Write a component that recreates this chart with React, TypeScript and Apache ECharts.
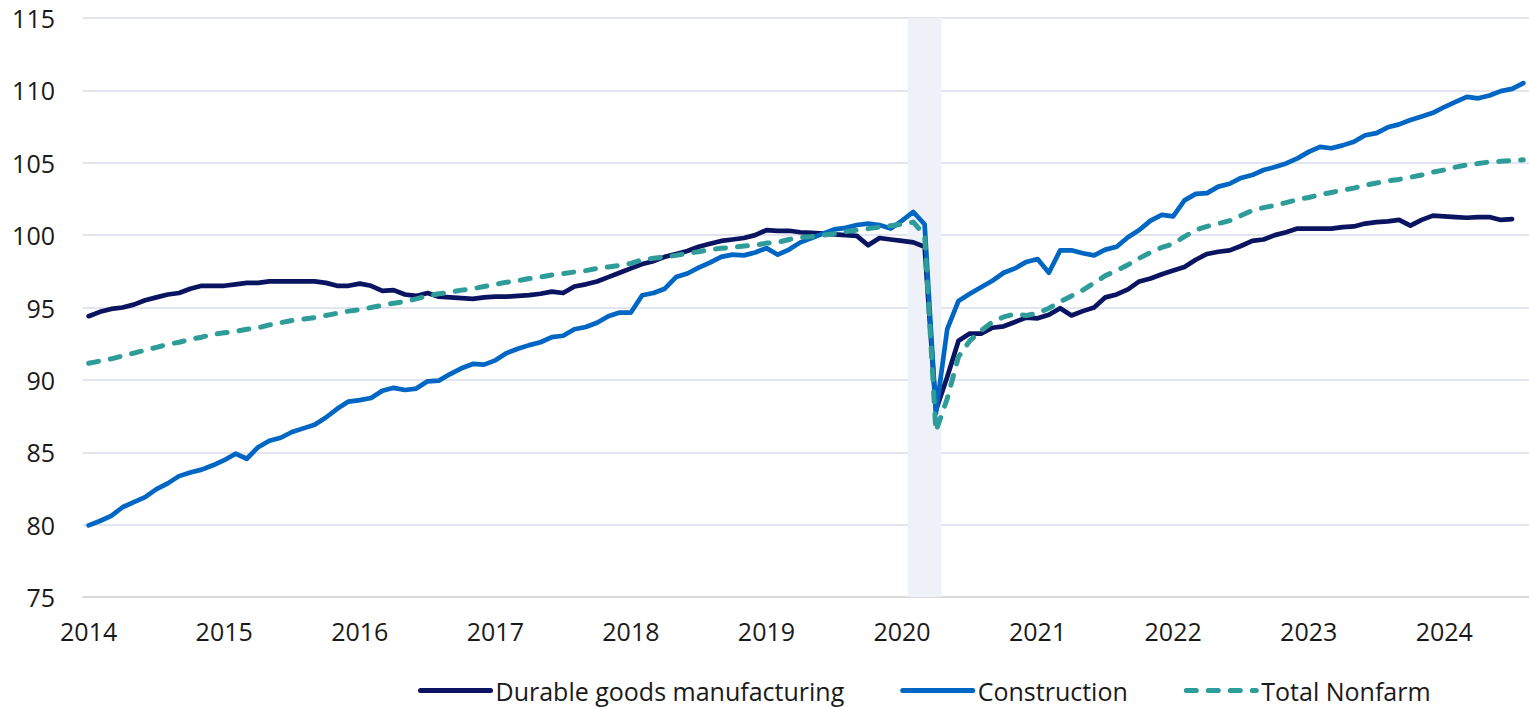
import React, { useEffect, useRef } from "react";
import * as echarts from "echarts";

const years = [2014, 2015, 2016, 2017, 2018, 2019, 2020, 2021, 2022, 2023, 2024];
const lastMonthOf2024 = 8;

const months: string[] = [];
for (const y of years) {
  for (let m = 1; m <= 12; m++) {
    if (y === 2024 && m > lastMonthOf2024) break;
    months.push(`${y}-${String(m).padStart(2, "0")}`);
  }
}

const yTicks = [75, 80, 85, 90, 95, 100, 105, 110, 115];

const durableGoods = [
  94.4, 94.7, 94.9, 95.0, 95.2, 95.5, 95.7, 95.9, 96.0, 96.3, 96.5, 96.5,
  96.5, 96.6, 96.7, 96.7, 96.8, 96.8, 96.8, 96.8, 96.8, 96.7, 96.5, 96.5,
  96.65, 96.5, 96.15, 96.2, 95.9, 95.8, 96.0, 95.75, 95.7, 95.65, 95.6, 95.7,
  95.75, 95.75, 95.8, 95.85, 95.95, 96.1, 96.0, 96.45, 96.6, 96.8, 97.1, 97.4,
  97.7, 98.0, 98.2, 98.5, 98.7, 98.9, 99.2, 99.4, 99.6, 99.7, 99.8, 100.0,
  100.35, 100.3, 100.3, 100.2, 100.15, 100.1, 100.05, 100.0, 99.95, 99.3, 99.8, 99.7,
  99.6, 99.5, 99.2, 87.9, 90.2, 92.7, 93.2, 93.2, 93.6, 93.7, 94.0, 94.3,
  94.25, 94.5, 94.95, 94.45, 94.75, 95.0, 95.7, 95.9, 96.25, 96.8, 97.0, 97.3,
  97.55, 97.8, 98.3, 98.7, 98.85, 98.95, 99.25, 99.6, 99.7, 100.0, 100.2, 100.45,
  100.45, 100.45, 100.45, 100.55, 100.6, 100.8, 100.9, 100.95, 101.05, 100.65, 101.05, 101.35,
  101.3, 101.25, 101.2, 101.25, 101.25, 101.05, 101.1, null,
];

const construction = [
  79.95, 80.25, 80.6, 81.2, 81.55, 81.9, 82.45, 82.85, 83.35, 83.6, 83.8, 84.1,
  84.45, 84.9, 84.55, 85.35, 85.8, 86.0, 86.4, 86.65, 86.9, 87.4, 88.0, 88.5,
  88.6, 88.75, 89.25, 89.45, 89.3, 89.4, 89.9, 89.95, 90.4, 90.8, 91.1, 91.05,
  91.35, 91.85, 92.15, 92.4, 92.6, 92.95, 93.05, 93.5, 93.65, 93.95, 94.4, 94.65,
  94.65, 95.85, 96.0, 96.3, 97.1, 97.35, 97.75, 98.1, 98.5, 98.65, 98.6, 98.8,
  99.1, 98.65, 99.0, 99.5, 99.8, 100.1, 100.4, 100.5, 100.7, 100.8, 100.7, 100.45,
  101.0, 101.6, 100.75, 87.7, 93.5, 95.45, 95.95, 96.4, 96.85, 97.4, 97.7, 98.15,
  98.35, 97.4, 98.95, 98.95, 98.75, 98.6, 99.0, 99.2, 99.85, 100.35, 101.0, 101.4,
  101.3, 102.4, 102.85, 102.9, 103.35, 103.55, 103.95, 104.15, 104.5, 104.7, 104.95, 105.3,
  105.75, 106.1, 106.0, 106.2, 106.45, 106.9, 107.05, 107.45, 107.65, 107.95, 108.2, 108.45,
  108.85, 109.2, 109.55, 109.45, 109.65, 109.95, 110.1, 110.5,
];

const totalNonfarm = [
  91.15, 91.3, 91.45, 91.65, 91.85, 92.05, 92.25, 92.45, 92.6, 92.8, 92.95, 93.15,
  93.25, 93.35, 93.5, 93.6, 93.8, 93.95, 94.1, 94.2, 94.3, 94.45, 94.6, 94.75,
  94.85, 95.0, 95.15, 95.3, 95.4, 95.6, 95.8, 95.95, 96.05, 96.2, 96.3, 96.45,
  96.6, 96.75, 96.85, 97.0, 97.1, 97.25, 97.35, 97.45, 97.55, 97.7, 97.8, 97.9,
  98.05, 98.3, 98.4, 98.5, 98.6, 98.75, 98.85, 99.0, 99.1, 99.15, 99.25, 99.3,
  99.45, 99.5, 99.7, 99.85, 99.9, 100.0, 100.1, 100.25, 100.35, 100.45, 100.55, 100.65,
  100.75, 100.9, 100.0, 86.45, 88.7, 91.6, 92.7, 93.4, 94.0, 94.35, 94.55, 94.45,
  94.6, 94.95, 95.4, 95.8, 96.2, 96.7, 97.2, 97.55, 97.95, 98.4, 98.8, 99.15,
  99.4, 99.9, 100.35, 100.6, 100.8, 101.0, 101.35, 101.7, 101.9, 102.05, 102.25, 102.45,
  102.6, 102.8, 102.95, 103.1, 103.25, 103.45, 103.6, 103.75, 103.85, 104.0, 104.15, 104.35,
  104.5, 104.7, 104.85, 104.95, 105.05, 105.1, 105.15, 105.2,
];

// recession shading: Feb 2020 through Apr 2020 (full month bands)
const recessionStart = "2020-02";
const recessionEnd = "2020-04";

const seriesNames = ["Durable goods manufacturing", "Construction", "Total Nonfarm"];
const colors = ["#0B1461", "#0066C4", "#2E9C98"];

const FONT = "'Open Sans', 'Noto Sans', sans-serif";

export default function App() {
  const ref = useRef<HTMLDivElement>(null);

  useEffect(() => {
    if (!ref.current) return;
    const chart = echarts.init(ref.current, undefined, { renderer: "svg" });
    const bandFrom = months.indexOf(recessionStart);
    const bandTo = months.indexOf(recessionEnd) + 1;
    chart.setOption({
      animation: false,
      backgroundColor: "#ffffff",
      grid: { left: 83, top: 18, width: 1449.6, height: 579, containLabel: false },
      xAxis: [
        {
          type: "category",
          data: months,
          boundaryGap: true,
          axisTick: { show: false },
          axisLine: { show: true, lineStyle: { color: "#D9D9D9", width: 2 } },
          splitLine: { show: false },
          axisLabel: {
            interval: (idx: number) => idx % 12 === 0,
            formatter: (v: string) => v.slice(0, 4),
            color: "#1a1a1a",
            fontSize: 25,
            fontFamily: FONT,
            margin: 21,
          },
        },
        {
          type: "value",
          min: 0,
          max: months.length,
          show: false,
          splitLine: { show: false },
        },
      ],
      yAxis: {
        type: "value",
        min: yTicks[0],
        max: yTicks[yTicks.length - 1],
        interval: 5,
        axisLine: { show: false },
        axisTick: { show: false },
        splitLine: { show: true, lineStyle: { color: "#E2E5F0", width: 2 } },
        axisLabel: {
          color: "#1a1a1a",
          fontSize: 25,
          fontFamily: FONT,
          margin: 28,
        },
      },
      legend: {
        left: 413,
        top: 673,
        itemWidth: 70,
        itemHeight: 14,
        itemGap: 56,
        data: seriesNames,
        textStyle: { color: "#1a1a1a", fontSize: 25, fontFamily: FONT },
        lineStyle: { width: 5 },
        itemStyle: { opacity: 0 },
      },
      series: [
        {
          name: "recession",
          type: "line",
          xAxisIndex: 1,
          data: [],
          symbol: "none",
          silent: true,
          z: 1,
          markArea: {
            silent: true,
            itemStyle: { color: "#EEF1F7" },
            data: [[{ xAxis: bandFrom }, { xAxis: bandTo }]],
          },
        },
        {
          name: seriesNames[0],
          type: "line",
          data: durableGoods,
          symbol: "none",
          z: 3,
          lineStyle: { color: colors[0], width: 4.7, cap: "round", join: "round" },
          itemStyle: { color: colors[0] },
        },
        {
          name: seriesNames[1],
          type: "line",
          data: construction,
          symbol: "none",
          z: 4,
          lineStyle: { color: colors[1], width: 4.7, cap: "round", join: "round" },
          itemStyle: { color: colors[1] },
        },
        {
          name: seriesNames[2],
          type: "line",
          data: totalNonfarm,
          symbol: "none",
          z: 5,
          lineStyle: { color: colors[2], width: 5, type: [10, 12], cap: "round", join: "round" },
          itemStyle: { color: colors[2] },
        },
      ],
    });
    return () => chart.dispose();
  }, []);

  return (
    <div
      ref={ref}
      style={{ position: "fixed", left: 0, top: 0, width: 1529, height: 707, background: "#fff" }}
    />
  );
}
